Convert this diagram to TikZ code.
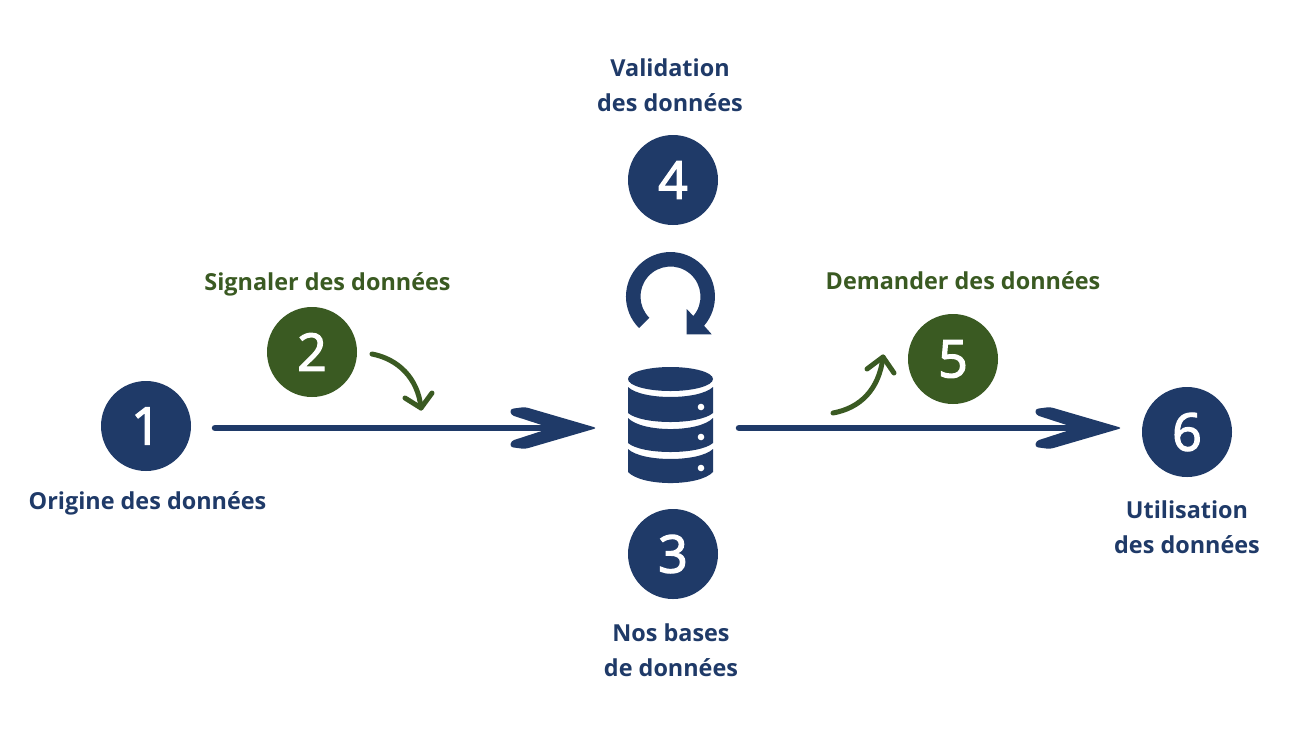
\documentclass[tikz,border=0pt]{standalone}
\usepackage{fontspec}
\setmainfont{Open Sans}
\newfontfamily\digitfont[FakeBold=2.5]{Open Sans}
\definecolor{navy}{HTML}{1F3A68}
\definecolor{leaf}{HTML}{3A5A22}
\newcommand{\chevronhead}[1]{%
  \fill[navy,rounded corners=3pt] (#1) -- ++(-72,-21) -- ++(-15,2) -- ++(1,6) -- ++(40,13) -- ++(-40,13) -- ++(-1,6) -- ++(15,2) -- cycle;}
\tikzset{
  navybadge/.style={circle,fill=navy,minimum size=90pt,inner sep=0pt,text=white,font=\fontsize{52}{52}\selectfont\digitfont},
  leafbadge/.style={navybadge,fill=leaf},
  navylabel/.style={text=navy,align=center,font=\fontsize{23.4}{35}\selectfont\bfseries,inner sep=0pt},
  leaflabel/.style={navylabel,text=leaf},
  mainline/.style={draw=navy,line width=6.5pt,line cap=round},
  bendarrow/.style={draw=leaf,line width=5pt,line cap=round,line join=round},
}
\begin{document}
\begin{tikzpicture}[x=1pt,y=-1pt]
\useasboundingbox[fill=white] (0,0) rectangle (1300,740);
% badges
\node[navybadge] (n1) at (146,426) {1};
\node[leafbadge] (n2) at (312,352) {2};
\node[navybadge] (n3) at (673,554) {3};
\node[navybadge] (n4) at (673,180) {4};
\node[leafbadge] (n5) at (953,359) {5};
\node[navybadge] (n6) at (1187,432) {6};
% labels
\node[navylabel] (t1) at (147.5,503) {Origine des données};
\node[leaflabel] (t2) at (327.5,284) {Signaler des données};
\node[navylabel] (t3) at (671,650) {Nos bases\\de données};
\node[navylabel] (t4) at (670,85.5) {Validation\\des données};
\node[leaflabel] (t5) at (963,281) {Demander des données};
\node[navylabel] (t6) at (1187,527) {Utilisation\\des données};
% main arrows
\coordinate (a1) at (215,428);
\coordinate (b1) at (575,428);
\coordinate (tip1) at (597,428);
\coordinate (a2) at (739,428);
\coordinate (b2) at (1100,428);
\coordinate (tip2) at (1122,428);
\draw[mainline] (a1) -- (b1);
\chevronhead{tip1}
\draw[mainline] (a2) -- (b2);
\chevronhead{tip2}
% green bent arrows
\coordinate (g1s) at (372,354);
\coordinate (g1e) at (421,408);
\draw[bendarrow] (g1s) .. controls (398,359) and (418,378) .. (g1e);
\draw[bendarrow] (405,398) -- (g1e) -- (432,393);
\coordinate (g2s) at (833,413);
\coordinate (g2e) at (883,357);
\draw[bendarrow] (g2s) .. controls (860,408) and (879,390) .. (g2e);
\draw[bendarrow] (867,369) -- (g2e) -- (894,373);
% loop arrow
\fill[navy] (639,328) arc[start angle=135,end angle=401,radius=44.5]
  -- (711.7,334.3) -- (686.7,334.3) -- (686.7,309) -- (693.3,316)
  arc[start angle=40.5,end angle=-225,radius=30] -- cycle;
% database
\fill[navy] (670.5,379) ellipse[x radius=42.5,y radius=12];
\foreach \t/\b/\tc/\bc/\d in {387/413/400.3/425/407, 418/443/432.7/455/437, 449/472/462.3/486.7/468}{
  \fill[navy] (628,\t) .. controls (642,\tc) and (699,\tc) .. (713,\t)
     -- (713,\b) .. controls (699,\bc) and (642,\bc) .. (628,\b) -- cycle;
  \fill[white] (701,\d) circle[radius=3.3];
}
\end{tikzpicture}
\end{document}
